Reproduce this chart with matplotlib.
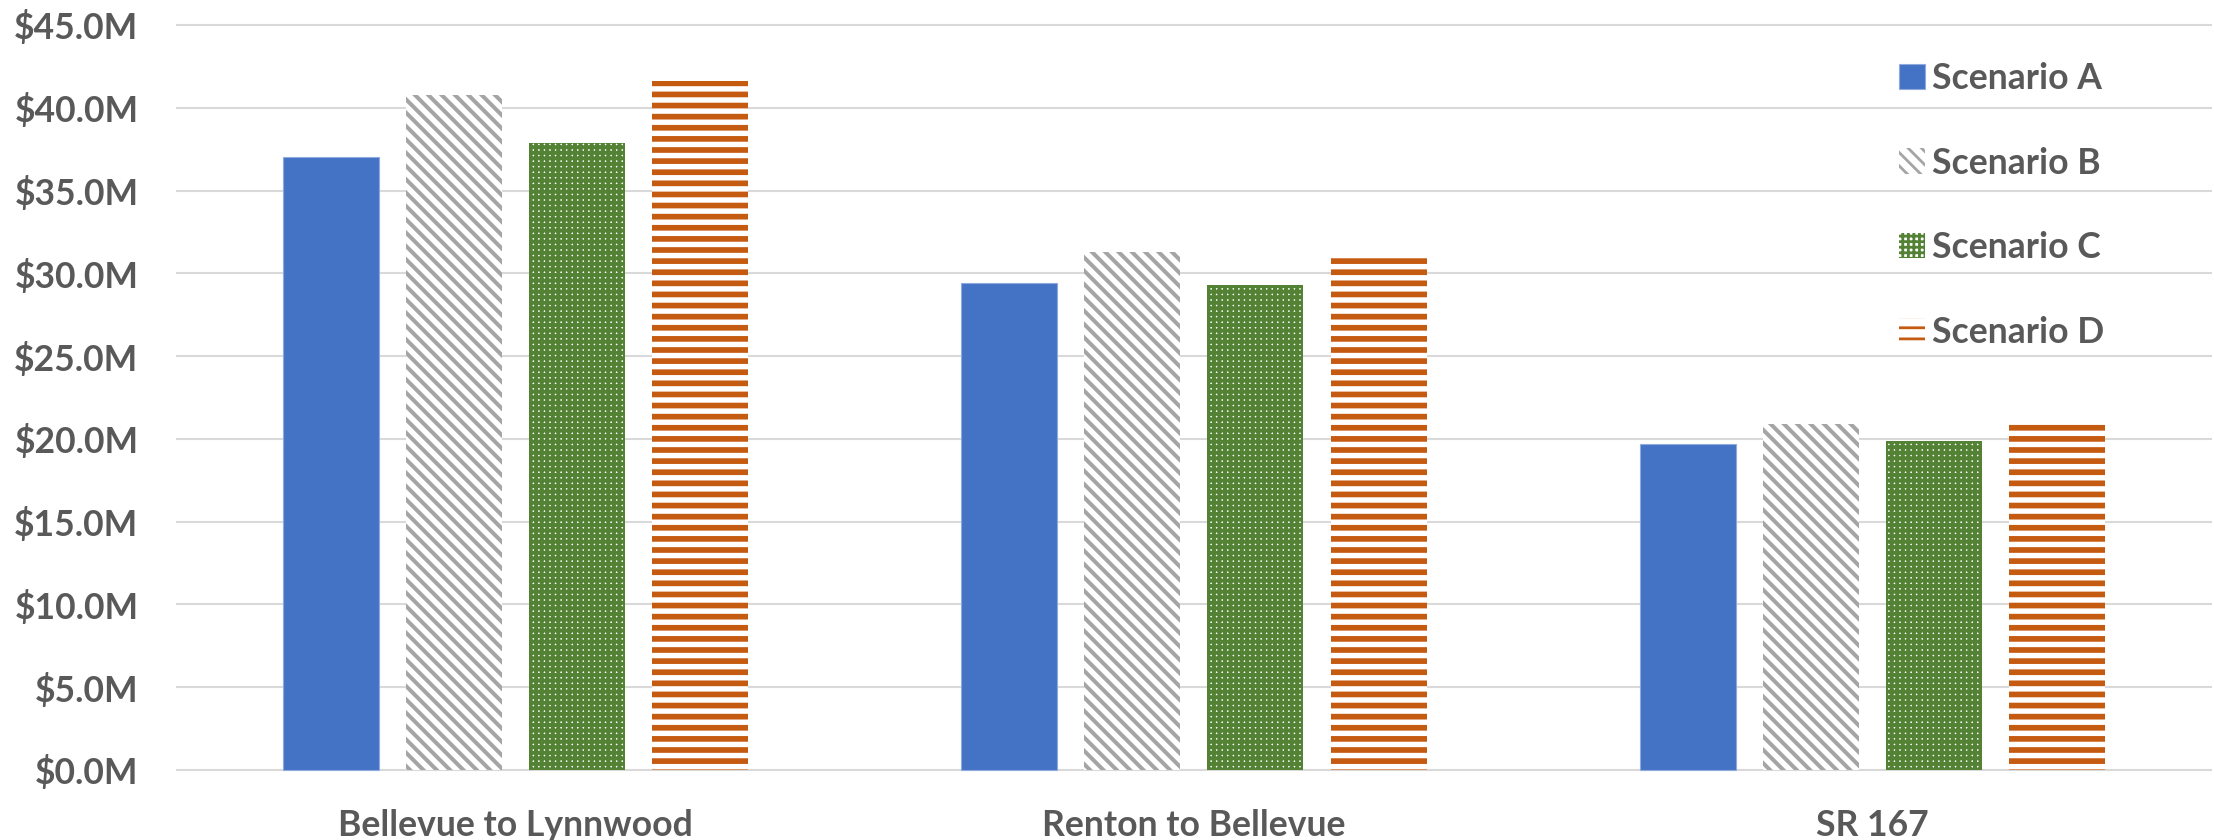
import matplotlib
matplotlib.use("Agg")
import matplotlib.pyplot as plt
import numpy as np

# Cost by corridor under four scenarios ($ millions)
corridors = ["Bellevue to Lynnwood", "Renton to Bellevue", "SR 167"]
scenarios = ["Scenario A", "Scenario B", "Scenario C", "Scenario D"]
scenario_a = [37.0, 29.4, 19.7]
scenario_b = [40.8, 31.3, 20.9]
scenario_c = [37.9, 29.3, 19.9]
scenario_d = [41.6, 31.05, 21.0]
y_ticks = [0, 5, 10, 15, 20, 25, 30, 35, 40, 45]

TEXT = "#595959"
GRID = "#D9D9D9"
FS = 12.8

plt.rcParams["font.family"] = ["Lato", "DejaVu Sans"]
plt.rcParams["font.weight"] = "bold"

fig = plt.figure(figsize=(11.07, 4.2), dpi=200)
ax = fig.add_axes([0.0795, 0.0794, 0.999 - 0.0795, 0.9742 - 0.0794])

# per-series style: face colour, hatch colour, hatch pattern, hatch width (pt)
styles = [
    dict(face="#4472C4", hatch_col="#4472C4", hatch=None, hlw=0.0),
    dict(face="white", hatch_col="#A5A5A5", hatch="\\\\\\\\\\", hlw=1.45),
    dict(face="white", hatch_col="#548235", hatch="++++++", hlw=1.42),
    dict(face="white", hatch_col="#C55A11", hatch="---", hlw=2.05),
]

series = [scenario_a, scenario_b, scenario_c, scenario_d]
x = np.arange(len(corridors))
width = 96 / 678
step = 123 / 678
offsets = (np.arange(4) - 1.5) * step

handles = []
for vals, off, st, name in zip(series, offsets, styles, scenarios):
    kw = dict(width=width, color=st["face"], label=name, zorder=3)
    if st["hatch"]:
        kw.update(edgecolor=st["hatch_col"], hatch=st["hatch"], linewidth=0)
    else:
        kw.update(edgecolor="#8FAADC", linewidth=0.4)
    with plt.rc_context({"hatch.linewidth": st["hlw"] if st["hlw"] else 1.0}):
        bars = ax.bar(x + off, vals, **kw)
    for b in bars:
        if st["hatch"] and hasattr(b, "set_hatch_linewidth"):
            b.set_hatch_linewidth(st["hlw"])
    handles.append(bars)

ax.set_xlim(-0.5, 2.5)
ax.set_ylim(-0.2, 45.2)
ax.set_yticks(y_ticks)
ax.set_yticklabels([f"${v:.1f}M" for v in y_ticks])
ax.set_xticks(x)
ax.set_xticklabels(corridors)

ax.grid(axis="y", color=GRID, linewidth=0.75, zorder=0)
ax.set_axisbelow(True)
for s in ax.spines.values():
    s.set_visible(False)

ax.tick_params(axis="y", length=0, pad=13.5, labelsize=FS, labelcolor=TEXT)
ax.tick_params(axis="x", length=0, pad=13, labelsize=FS, labelcolor=TEXT)

leg = ax.legend(handles=handles, labels=scenarios, loc="upper left",
                bbox_to_anchor=(1899 / 2214, 1 - 62 / 840),
                bbox_transform=fig.transFigure,
                frameon=False, fontsize=FS, handlelength=0.72,
                handleheight=0.72, handletextpad=0.22, labelspacing=1.45,
                borderpad=0, borderaxespad=0)
for t in leg.get_texts():
    t.set_color(TEXT)

fig.savefig("out.png", dpi=200)
